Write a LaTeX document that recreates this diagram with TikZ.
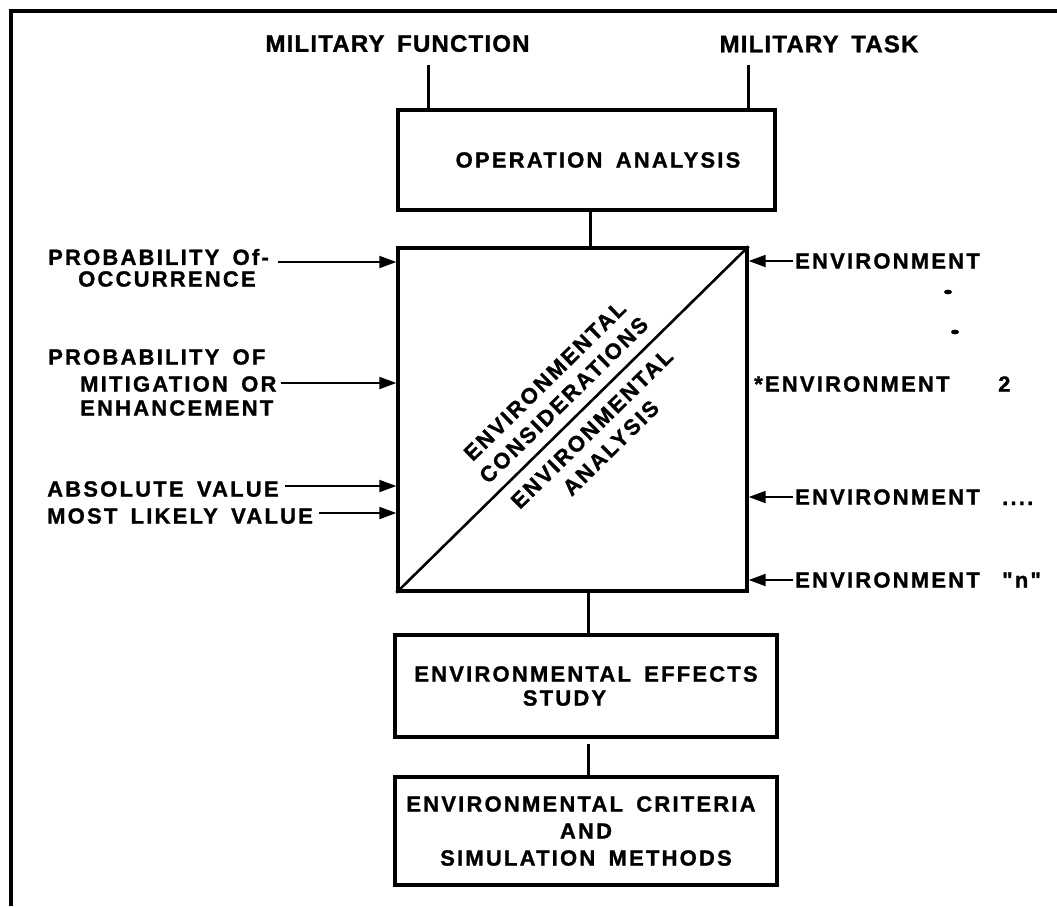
\documentclass[tikz,border=0pt]{standalone}
\usepackage{fontspec}
\setmainfont{Liberation Sans}
\newfontfamily\labfont[LetterSpace=10,WordSpace=1.6,FakeBold=1.2]{Liberation Sans}
\newfontfamily\topfont[LetterSpace=5,WordSpace=1.6,FakeBold=1.2]{Liberation Sans}
\usetikzlibrary{arrows.meta}
\begin{document}
\begin{tikzpicture}[x=1pt,y=-1pt,
  lbl/.style={font=\labfont\bfseries\fontsize{22}{27}\selectfont, inner sep=0pt},
  toplbl/.style={font=\topfont\bfseries\fontsize{24}{28}\selectfont, inner sep=0pt},
  box/.style={draw, line width=3.4pt, inner sep=0pt, align=center,
              font=\labfont\bfseries\fontsize{22}{25}\selectfont},
  conn/.style={line width=3pt},
  arr/.style={line width=2pt, -{Triangle[length=17pt,width=12pt]}},
  frameline/.style={line width=4.5pt}]
\useasboundingbox (0,0) rectangle (1057,906);
\draw[frameline] (11,906) -- (11,11) -- (1057,11);

% top labels
\node[toplbl] (mf) at (397.5,43.5) {MILITARY FUNCTION};
\node[toplbl] (mt) at (819,44) {MILITARY TASK};

% boxes
\node[box, minimum width=377pt, minimum height=100pt] (oa) at (586.5,160)
  {\hspace*{23pt}OPERATION ANALYSIS};
\node[draw, line width=3.4pt, minimum width=349pt, minimum height=343pt, inner sep=0pt]
  (sq) at (572.5,419.5) {};
\node[box, minimum width=382pt, minimum height=102pt, font=\labfont\bfseries\fontsize{22}{24}\selectfont]
  (ees) at (586,686) {ENVIRONMENTAL EFFECTS\\STUDY\hspace*{43pt}};
\node[box, minimum width=382pt, minimum height=108pt, font=\labfont\bfseries\fontsize{22}{27}\selectfont]
  (ecs) at (586,831) {ENVIRONMENTAL CRITERIA\hspace*{10pt}\\AND\hspace*{40pt}\\SIMULATION METHODS};

% diagonal with texts
\draw[line width=2.6pt] (sq.south west) --
  node[pos=0.515, sloped, above=11pt, lbl, align=center] {ENVIRONMENTAL\\CONSIDERATIONS}
  node[pos=0.515, sloped, below=11pt, lbl, align=center] {ENVIRONMENTAL\\ANALYSIS}
  (sq.north east);

% connectors
\draw[conn] ([shift={(30.5,13)}]mf.south) -- ([xshift=30.5pt]mf.south |- oa.north);
\draw[conn] ([shift={(-71,12)}]mt.south) -- ([xshift=-71pt]mt.south |- oa.north);
\draw[conn] ([xshift=3.5pt]oa.south) -- ([xshift=3.5pt]oa.south |- sq.north);
\draw[conn] ([xshift=2pt]sq.south -| ees.north) -- ([xshift=2pt]ees.north);
\draw[conn] ([shift={(2,5)}]ees.south) -- ([xshift=2pt]ees.south |- ecs.north);

% left labels
\node[lbl, anchor=west] (p1a) at (48,257) {PROBABILITY Of-};
\node[lbl, anchor=west] (p1b) at (78,279) {OCCURRENCE};
\node[lbl, anchor=west] (p2a) at (48,357) {PROBABILITY OF};
\node[lbl, anchor=west] (p2b) at (80,384) {MITIGATION OR};
\node[lbl, anchor=west] (p2c) at (80,408) {ENHANCEMENT};
\node[lbl, anchor=west] (p3a) at (47,489) {ABSOLUTE VALUE};
\node[lbl, anchor=west] (p3b) at (47,516) {MOST LIKELY VALUE};

\draw[arr] ([shift={(9,5)}]p1a.east) -- ([yshift=-5pt]p1a.east -| sq.west);
\draw[arr] ([shift={(4,-1)}]p2b.east) -- ([yshift=1pt]p2b.east -| sq.west);
\draw[arr] ([shift={(6,-3)}]p3a.east) -- ([yshift=3pt]p3a.east -| sq.west);
\draw[arr] ([shift={(6,-3)}]p3b.east) -- ([yshift=3pt]p3b.east -| sq.west);

% right labels
\node[lbl, anchor=west] (e1) at (795,261) {ENVIRONMENT};
\fill (948,292) ellipse [x radius=4, y radius=2.4];
\fill (955,332) ellipse [x radius=4, y radius=2.4];
\node[lbl, anchor=west] (e2) at (754,384) {*ENVIRONMENT};
\node[lbl, anchor=west] (e2n) at (998,384) {2};
\node[lbl, anchor=west] (e3) at (795,497) {ENVIRONMENT};
\node[lbl, anchor=base west] (e3s) at (1002,505) {....};
\node[lbl, anchor=west] (e4) at (795,580) {ENVIRONMENT};
\node[lbl, anchor=west] (e4s) at (1002,580) {"n"};

\draw[arr] ([xshift=-2pt]e1.west) -- (e1.west -| sq.east);
\draw[arr] ([xshift=-2pt]e3.west) -- (e3.west -| sq.east);
\draw[arr] ([xshift=-2pt]e4.west) -- (e4.west -| sq.east);
\end{tikzpicture}
\end{document}
